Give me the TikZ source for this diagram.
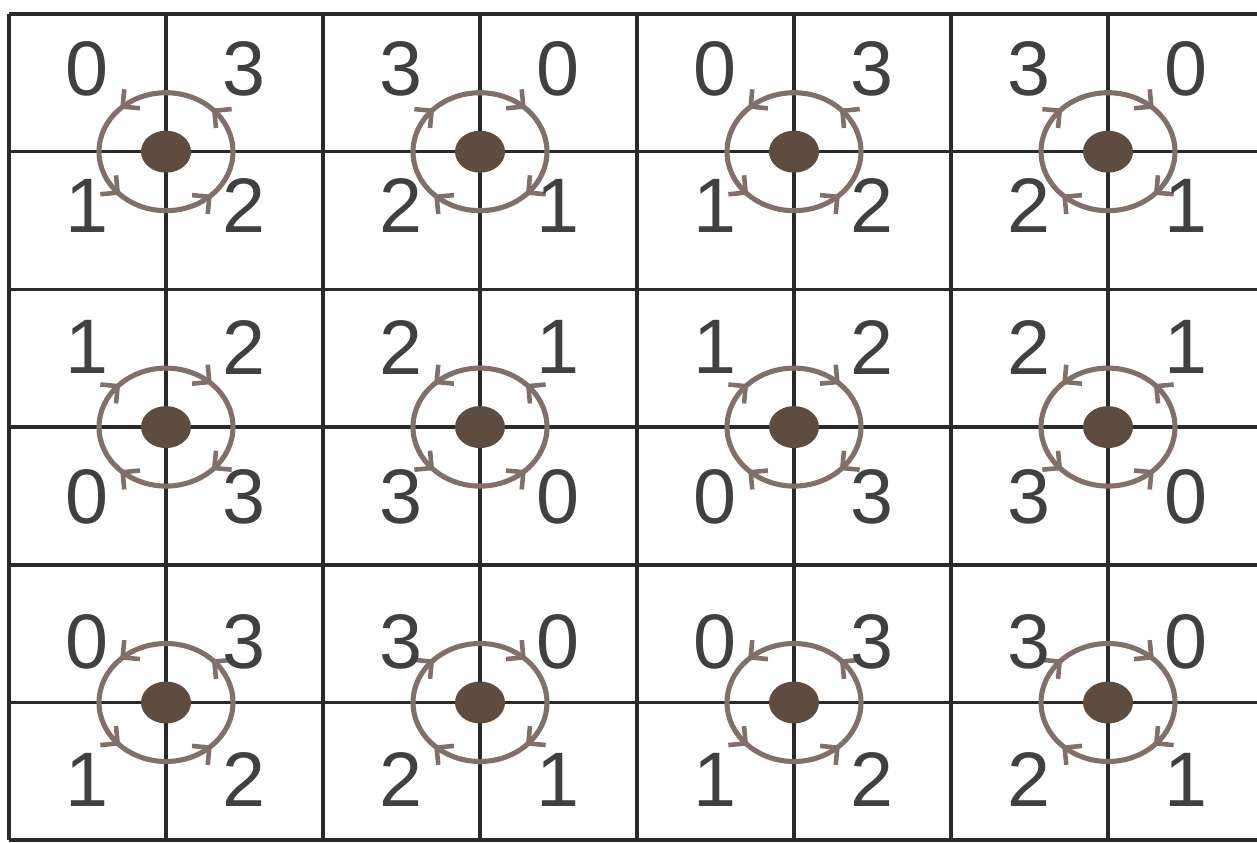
\documentclass[tikz,border=0pt]{standalone}
\usepackage{fontspec}
\setmainfont{Liberation Sans}
\usetikzlibrary{shapes.geometric,arrows.meta,decorations.markings}
\definecolor{gridc}{HTML}{2A2A2A}
\definecolor{ringc}{HTML}{807069}
\definecolor{dotc}{HTML}{5E4C40}
\definecolor{digc}{HTML}{404040}
\tikzset{
  gridline/.style={draw=gridc, line width=2pt},
  ringbase/.style={draw=ringc, line width=2.9pt},
  tip/.tip={Straight Barb[length=7pt,width=14pt,line width=2.6pt]},
  ringccw/.style={ringbase, postaction={decorate}, decoration={markings,
      mark=at position 0.125 with {\arrow[ringc]{tip}},
      mark=at position 0.375 with {\arrow[ringc]{tip}},
      mark=at position 0.625 with {\arrow[ringc]{tip}},
      mark=at position 0.875 with {\arrow[ringc]{tip}}}},
  ringcw/.style={ringbase, postaction={decorate}, decoration={markings,
      mark=at position 0.125 with {\arrowreversed[ringc]{tip}},
      mark=at position 0.375 with {\arrowreversed[ringc]{tip}},
      mark=at position 0.625 with {\arrowreversed[ringc]{tip}},
      mark=at position 0.875 with {\arrowreversed[ringc]{tip}}}},
  dot/.style={ellipse, fill=dotc, minimum width=1cm, minimum height=0.84cm, inner sep=0pt},
  dig/.style={font=\fontsize{44}{44}\selectfont, text=digc, inner sep=0pt}
}
\begin{document}
\begin{tikzpicture}[x=0.02cm,y=0.02cm]
\useasboundingbox (0,0) rectangle (1257,842);
\fill[white] (0,0) rectangle (1257,842);
\clip (0,0) rectangle (1257,842);
% grid
\foreach \k in {0,...,8} {
  \draw[gridline] ({9+\k*157},828) -- ({9+\k*157},1.8);
}
\foreach \k in {0,...,6} {
  \draw[gridline] (9,{828-\k*137.7}) -- (1270,{828-\k*137.7});
}
% cells
\foreach \n/\X/\Y/\ta/\tb/\tl/\tr/\bl/\br/\s in {
  a/166/690.3/83/54/0/3/1/2/1,
  b/480/690.3/83/54/3/0/2/1/0,
  c/794/690.3/83/54/0/3/1/2/1,
  d/1108/690.3/83/54/3/0/2/1/0,
  e/166/414.9/80/70/1/2/0/3/0,
  f/480/414.9/80/70/2/1/3/0/1,
  g/794/414.9/80/70/1/2/0/3/0,
  h/1108/414.9/80/70/2/1/3/0/1,
  i/166/139.5/61/77/0/3/1/2/1,
  j/480/139.5/61/77/3/0/2/1/0,
  k/794/139.5/61/77/0/3/1/2/1,
  l/1108/139.5/61/77/3/0/2/1/0} {
  \ifnum\s=1
    \draw[ringccw] (\X,\Y) ellipse [x radius=1.34cm, y radius=1.18cm];
  \else
    \draw[ringcw] (\X,\Y) ellipse [x radius=1.34cm, y radius=1.18cm];
  \fi
  \node[dot] (p\n) at (\X,\Y) {};
  \node[dig] (\n tl) at ({\X-79},{\Y+\ta}) {\tl};
  \node[dig] (\n tr) at ({\X+78},{\Y+\ta}) {\tr};
  \node[dig] (\n bl) at ({\X-79},{\Y-\tb}) {\bl};
  \node[dig] (\n br) at ({\X+78},{\Y-\tb}) {\br};
}
\end{tikzpicture}
\end{document}
